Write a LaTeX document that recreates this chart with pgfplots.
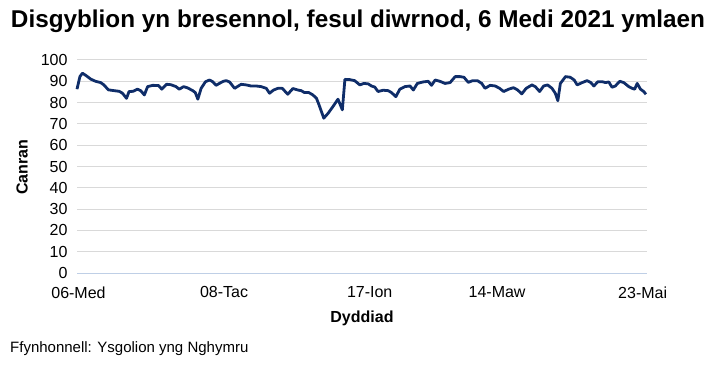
\documentclass[border=0pt]{standalone}
\usepackage{fontspec}
\setmainfont{Liberation Sans}
\usepackage{pgfplots}
\pgfplotsset{compat=1.18}
\definecolor{navy}{RGB}{15,45,105}
\definecolor{gridc}{RGB}{217,217,217}
\definecolor{basec}{RGB}{191,207,230}
\begin{document}
\begin{tikzpicture}[x=1bp,y=1bp]
\useasboundingbox (0,0) rectangle (714,368);
\node[font=\fontsize{24.3bp}{28bp}\selectfont\bfseries] at (358,347) {Disgyblion yn bresennol, fesul diwrnod, 6 Medi 2021 ymlaen};
\node[font=\fontsize{16bp}{18bp}\selectfont\bfseries, rotate=90] at (22,201) {Canran};
\node[font=\fontsize{16bp}{18bp}\selectfont\bfseries] at (362,50) {Dyddiad};
\node[font=\fontsize{15bp}{18bp}\selectfont, anchor=west, inner sep=0pt] at (10,19) {Ffynhonnell: Ysgolion yng Nghymru};
\begin{axis}[
  at={(77bp,95bp)}, anchor=south west,
  scale only axis, width=570bp, height=213bp,
  xmin=0, xmax=156.6, ymin=0, ymax=100,
  ytick={0,10,...,100},
  xtick={0,40,80,115,155},
  xticklabels={06-Med,08-Tac,17-Ion,14-Maw,23-Mai},
  axis x line*=bottom, axis y line*=left,
  y axis line style={draw=none},
  x axis line style={draw=basec, line width=1bp, -},
  major tick length=0pt,
  ymajorgrids, grid style={draw=gridc, line width=1bp},
  tick label style={font=\fontsize{16bp}{18bp}\selectfont},
  /pgf/number format/assume math mode=true,
  yticklabel style={anchor=east, xshift=-6bp},
  xticklabel style={anchor=north, yshift=-10bp, xshift=1.5bp},
  clip=false,
]
\addplot[navy, line width=2.8bp, line join=round] coordinates {
(0,86.3) (0.8,92.2) (1.5,93.8) (2.4,92.8) (3.8,91.0) (5.1,90.0) (6.5,89.4) (7.4,88.3)
(8.6,86.0) (10.2,85.6) (11.6,85.3) (12.5,84.4) (13.6,82.0) (14.3,85.2) (15.4,85.3) (16.6,86.3)
(17.5,85.6) (18.5,83.6) (19.4,87.5) (20.8,88.1) (22.4,88.0) (23.3,86.3) (24.6,88.6) (25.8,88.4)
(27.2,87.5) (28.1,86.3) (29.3,87.5) (30.4,86.9) (31.8,85.6) (32.5,84.7) (33.2,81.6) (34.1,86.7)
(35.3,89.8) (36.4,90.6) (37.3,89.8) (38.2,88.1) (39.1,89.0) (40.2,90.0) (41.0,90.3) (41.9,89.7)
(43.3,86.7) (45.1,88.6) (46.5,88.3) (47.8,87.8) (49.2,87.8) (50.6,87.5) (52.0,86.7) (52.9,84.4)
(54.0,85.9) (55.2,86.7) (56.4,86.7) (57.9,83.9) (59.3,86.6) (60.7,85.9) (61.6,85.6) (62.5,84.7)
(63.7,84.7) (64.8,83.6) (65.8,82.0) (66.5,78.9) (67.8,72.7) (69.0,75.0) (70.3,78.1) (71.7,81.6)
(72.9,76.6) (73.6,90.9) (74.9,90.8) (76.3,90.3) (77.7,88.3) (78.8,89.0) (80.0,88.8) (80.9,87.8)
(81.8,87.3) (82.7,85.2) (84.1,85.8) (85.5,85.6) (86.4,84.7) (87.6,82.8) (88.7,86.3) (90.1,87.5)
(91.5,87.8) (92.4,85.9) (93.5,89.0) (95.1,89.7) (96.5,90.0) (97.4,88.1) (98.4,90.6) (99.7,90.0)
(101.1,89.0) (102.5,89.4) (103.9,92.2) (105.2,92.2) (106.3,91.9) (107.5,89.5) (108.7,90.3) (110.0,90.3)
(111.2,89.0) (112.1,86.7) (113.5,88.1) (114.9,87.8) (116.1,86.7) (117.2,85.2) (118.6,86.3) (119.9,87.0)
(121.0,86.0) (122.2,84.1) (123.4,86.7) (125.0,88.3) (125.9,87.5) (127.1,85.2) (128.2,87.8) (129.3,88.3)
(130.5,86.7) (131.4,84.4) (132.1,80.9) (132.8,89.0) (134.2,92.2) (135.5,91.9) (136.6,90.6) (137.4,88.3)
(138.8,89.4) (140.1,90.3) (141.1,89.5) (142.0,87.8) (143.1,89.8) (144.3,89.8) (145.2,89.4) (146.1,89.7)
(147.0,87.2) (147.9,87.8) (149.1,90.0) (150.2,89.4) (151.6,87.5) (152.5,86.7) (153.2,86.3) (153.9,89.0)
(154.8,86.3) (155.7,85.2) (156.3,83.9)
};
\end{axis}
\end{tikzpicture}
\end{document}
